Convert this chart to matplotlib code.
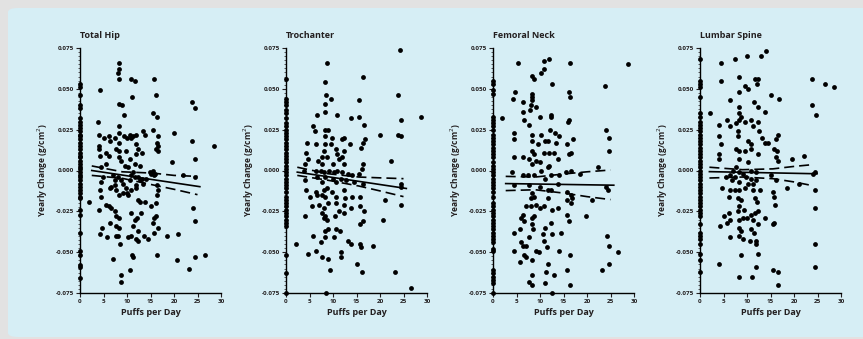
import numpy as np
import matplotlib
matplotlib.use("Agg")
import matplotlib.pyplot as plt
from matplotlib.patches import FancyBboxPatch
from matplotlib.ticker import MultipleLocator, FormatStrFormatter

plt.rcParams['font.family'] = ['Open Sans', 'DejaVu Sans']
plt.rcParams['axes.unicode_minus'] = False

titles = ["Total Hip", "Trochanter", "Femoral Neck", "Lumbar Spine"]

# --- Total Hip ---
hip_zero = [0.053, 0.051, 0.046, 0.040, 0.038, 0.032, 0.030, 0.028, 0.026, 0.024,
            0.022, 0.021, 0.019, 0.017, 0.015, 0.013, 0.011, 0.009, 0.008, 0.006,
            0.004, 0.002, 0.001, -0.001, -0.003, -0.004, -0.006, -0.008, -0.010,
            -0.012, -0.014, -0.016, -0.017, -0.024, -0.027, -0.038, -0.049,
            -0.052, -0.058, -0.059, -0.066]
hip_x = [8.3, 8.4, 8.1, 8.4, 10.8, 11.6, 15.7, 16.1, 11.1, 4.3, 8.3, 8.9, 9.4, 23.8,
         24.5, 15.6, 16.4, 3.9, 8.3, 19.9, 23.8, 28.6, 19.5, 24.5,
         4.1, 5.2, 6.1, 6.3, 7.4, 8.4, 9.4, 9.9, 10.7, 11.3, 12.0, 10.9, 11.9, 13.4,
         13.8, 15.6, 16.6, 16.3, 16.6, 16.1, 16.5, 4.1, 4.0, 5.6, 6.1, 7.7, 8.4, 9.7,
         8.3, 12.4, 13.1, 12.0, 4.3, 4.5, 5.6, 8.3, 8.8, 10.6, 11.6, 12.7, 15.6, 15.9,
         14.9, 9.6, 10.2, 10.9, 11.3, 11.6, 8.8, 9.1, 8.1, 7.4, 7.0, 12.4, 12.7, 13.4,
         13.1, 11.9, 10.6, 9.7, 14.1, 15.2, 15.7, 22.0, 24.5, 16.3, 16.6,
         2.0, 4.0, 4.5, 4.3, 4.5, 4.9, 6.6, 6.3, 7.4, 7.7, 8.4, 9.1, 9.9, 10.2, 10.9,
         12.0, 12.4, 12.7, 13.8, 15.0, 16.1, 16.3, 5.6, 6.1, 6.6, 7.4, 7.7, 8.3, 4.7,
         4.3, 5.7, 6.3, 7.7, 8.4, 7.6, 8.1, 8.6, 10.2, 10.9, 11.3, 11.6, 12.2, 12.9,
         12.4, 11.9, 12.4, 13.6, 14.4, 15.8, 15.6, 16.1, 16.5, 18.6, 20.9, 24.1, 24.5,
         10.8, 15.7, 16.3, 11.3, 11.1, 7.0, 10.6, 8.8, 8.8, 20.6, 23.1, 24.5, 26.5]
hip_y = [0.066, 0.062, 0.060, 0.056, 0.056, 0.055, 0.056, 0.046, 0.045, 0.049, 0.041,
         0.040, 0.034, 0.042, 0.038, 0.035, 0.033, 0.030, 0.027, 0.023, 0.018, 0.015,
         0.005, 0.007,
         0.022, 0.020, 0.021, 0.018, 0.020, 0.023, 0.021, 0.020, 0.022, 0.021, 0.022,
         0.020, 0.016, 0.024, 0.022, 0.025, 0.021, 0.017, 0.015, 0.013, 0.012, 0.015,
         0.013, 0.011, 0.009, 0.013, 0.012, 0.012, 0.017, 0.013, 0.011, 0.010, 0.009,
         0.002, 0.004, 0.008, 0.006, 0.007, 0.004, 0.003, 0.000, -0.002, -0.001, 0.003,
         0.002, -0.003, -0.001, -0.004, -0.006, -0.008, -0.004, -0.006, -0.003, -0.004,
         -0.006, -0.008, -0.005, -0.009, -0.006, -0.011, -0.005, -0.002, -0.003, -0.003,
         -0.004, -0.009, -0.012,
         -0.019, -0.024, -0.016, -0.012, -0.007, -0.004, -0.010, -0.011, -0.009, -0.012,
         -0.015, -0.014, -0.014, -0.015, -0.012, -0.011, -0.018, -0.019, -0.019, -0.022,
         -0.020, -0.015, -0.021, -0.022, -0.023, -0.025, -0.028, -0.029, -0.035, -0.039,
         -0.041, -0.032, -0.034, -0.035, -0.040, -0.040, -0.045, -0.041, -0.040, -0.034,
         -0.030, -0.029, -0.026, -0.037, -0.042, -0.043, -0.040, -0.042, -0.038, -0.032,
         -0.028, -0.035, -0.040, -0.039, -0.023, -0.031, -0.026, -0.029, -0.052, -0.053,
         -0.0515, -0.054, -0.061, -0.064, -0.068, -0.055, -0.060, -0.053, -0.052]
hip_band_x = [2.5, 9, 15.5, 20, 25]
hip_fit_x = [2.5, 25.5]
hip_fit_y = [0.000, -0.0099]
hip_upper = [0.0028, -0.0008, -0.0016, -0.0030, -0.0036]
hip_lower = [-0.0030, -0.0048, -0.0088, -0.0115, -0.0148]

# --- Trochanter ---
tro_zero = [0.056, 0.044, 0.042, 0.040, 0.037, 0.035, 0.032, 0.029, 0.027, 0.025,
            0.023, 0.021, 0.019, 0.017, 0.015, 0.013, 0.011, 0.009, 0.007, 0.005,
            0.003, 0.001, -0.001, -0.003, -0.005, -0.007, -0.009, -0.011, -0.013,
            -0.016, -0.018, -0.020, -0.022, -0.024, -0.026, -0.028, -0.030, -0.032,
            -0.034, -0.052, -0.063, -0.075]
tro_x = [24.3, 8.7, 8.4, 16.3, 8.6, 9.5, 8.4, 23.8, 15.6, 8.4, 6.7, 10.9, 13.8, 15.6,
         16.5, 28.8, 24.5, 23.8, 24.5, 19.9, 5.8, 6.1, 8.3, 9.0, 8.4, 9.7, 11.9, 12.4,
         16.9, 16.3, 4.5, 6.3, 8.3, 9.5, 13.6, 15.9, 4.3, 8.1, 10.6, 10.9, 12.4, 4.7,
         6.8, 7.7, 8.8, 11.3, 12.0, 4.1, 7.7, 9.9, 12.4, 16.3, 22.4, 16.1, 3.8, 6.3,
         7.4, 8.1, 9.1, 10.2, 10.9, 12.0, 13.1, 14.1, 15.6, 6.6, 8.4, 9.9, 11.6, 12.7,
         4.1, 7.7, 10.6, 14.5, 16.3, 24.5, 24.5, 4.3, 6.3, 8.1, 8.8, 12.4, 9.7, 5.2,
         6.6, 7.6, 8.4, 10.6, 12.6, 14.1, 15.7, 21.1, 24.5, 5.6, 7.0, 8.1, 9.0, 10.6,
         12.4, 11.3, 13.8, 15.7, 16.5, 4.1, 7.7, 8.4, 8.1, 8.8, 10.4, 12.4, 16.3, 15.7,
         20.6, 8.4, 9.0, 10.7, 11.4, 5.7, 8.4, 10.2, 7.5, 13.1, 13.8, 15.7, 15.9, 18.6,
         2.1, 6.3, 4.7, 7.6, 8.9, 11.6, 11.6, 15.1, 9.4, 16.1, 23.1, 26.5, 8.6]
tro_y = [0.074, 0.066, 0.054, 0.057, 0.046, 0.044, 0.041, 0.046, 0.043, 0.036, 0.034,
         0.034, 0.032, 0.033, 0.028, 0.033, 0.031, 0.022, 0.021, 0.022, 0.027, 0.024,
         0.025, 0.025, 0.021, 0.020, 0.019, 0.020, 0.019, 0.017, 0.017, 0.016, 0.016,
         0.016, 0.016, 0.014, 0.011, 0.012, 0.013, 0.010, 0.012, 0.007, 0.006, 0.008,
         0.008, 0.007, 0.008, 0.004, 0.004, 0.004, 0.004, 0.004, 0.006, 0.001, 0.000,
         0.000, 0.000, -0.001, 0.000, -0.001, 0.000, -0.001, -0.002, -0.003, -0.002,
         -0.004, -0.004, -0.005, -0.005, -0.006, -0.006, -0.007, -0.007, -0.007, -0.008,
         -0.008, -0.010, -0.012, -0.013, -0.012, -0.011, -0.012, -0.013, -0.016, -0.015,
         -0.015, -0.016, -0.016, -0.017, -0.016, -0.016, -0.018, -0.021, -0.022, -0.021,
         -0.023, -0.020, -0.020, -0.021, -0.025, -0.023, -0.022, -0.025, -0.028, -0.026,
         -0.028, -0.029, -0.030, -0.028, -0.026, -0.031, -0.033, -0.030, -0.037, -0.036,
         -0.036, -0.037, -0.040, -0.041, -0.041, -0.044, -0.043, -0.045, -0.045, -0.047,
         -0.046, -0.045, -0.049, -0.051, -0.053, -0.054, -0.050, -0.053, -0.057, -0.061,
         -0.062, -0.062, -0.072, -0.075]
tro_band_x = [2.4, 9, 15.5, 20, 25]
tro_fit_x = [2.4, 25.6]
tro_fit_y = [-0.001, -0.011]
tro_upper = [0.0020, -0.0020, -0.0040, -0.0045, -0.0050]
tro_lower = [-0.0030, -0.0060, -0.0095, -0.0125, -0.0160]

# --- Femoral Neck ---
fem_zero = [0.055, 0.053, 0.049, 0.047, 0.033, 0.031, 0.029, 0.027, 0.025, 0.022,
            0.020, 0.018, 0.016, 0.014, 0.012, 0.010, 0.008, 0.005, 0.003, 0.001,
            -0.001, -0.003, -0.005, -0.007, -0.009, -0.011, -0.013, -0.016, -0.020,
            -0.022, -0.024, -0.026, -0.028, -0.030, -0.032, -0.034, -0.036, -0.038,
            -0.040, -0.042, -0.044, -0.048, -0.049, -0.061, -0.063, -0.065, -0.067,
            -0.069, -0.075]
fem_x = [5.4, 10.9, 12.0, 16.3, 28.8, 8.4, 8.8, 10.2, 10.9, 12.6, 23.8, 4.7, 4.3, 8.4,
         8.4, 8.4, 8.1, 9.1, 16.1, 16.3, 6.4, 6.3, 7.9, 10.0, 12.4, 12.4, 6.6, 7.6, 2.0,
         16.1, 15.9, 4.5, 4.5, 8.4, 10.2, 12.2, 13.1, 14.0, 9.5, 8.4, 11.1, 11.6, 13.3,
         15.8, 17.0, 24.0, 24.6, 24.6, 4.5, 6.3, 8.4, 8.8, 10.9, 12.0, 12.9, 13.8, 16.1,
         16.5, 7.7, 9.1, 9.9, 8.3, 11.6, 12.0, 4.1, 6.3, 7.4, 8.8, 10.2, 11.1, 12.4,
         14.1, 15.6, 16.5, 18.6, 22.4, 24.5, 24.1, 4.5, 7.7, 9.9, 11.6, 12.4, 13.8, 8.4,
         8.8, 8.1, 11.6, 15.7, 16.5, 16.9, 15.7, 21.1, 7.0, 8.1, 9.1, 9.9, 10.8, 12.5,
         13.8, 16.5, 19.7, 6.3, 5.9, 6.6, 8.4, 8.8, 8.3, 8.6, 11.1, 12.4, 15.8, 16.1,
         5.8, 4.5, 7.6, 10.7, 12.5, 14.5, 10.8, 5.9, 6.4, 7.1, 9.1, 9.7, 11.4, 4.4,
         14.0, 24.3, 24.6, 26.6, 6.6, 7.0, 8.3, 5.7, 16.3, 24.6, 11.8, 23.1, 15.8, 11.3,
         12.9, 8.4, 7.6, 8.4, 11.1, 16.3, 12.5]
fem_y = [0.066, 0.067, 0.068, 0.066, 0.065, 0.058, 0.056, 0.060, 0.062, 0.053, 0.052,
         0.048, 0.044, 0.047, 0.045, 0.043, 0.040, 0.039, 0.048, 0.045, 0.042, 0.036,
         0.037, 0.033, 0.034, 0.033, 0.031, 0.028, 0.032, 0.031, 0.030, 0.023, 0.019,
         0.022, 0.022, 0.025, 0.023, 0.021, 0.016, 0.018, 0.018, 0.018, 0.017, 0.016,
         0.019, 0.025, 0.020, 0.012, 0.008, 0.008, 0.012, 0.010, 0.011, 0.011, 0.011,
         0.007, 0.010, 0.011, 0.007, 0.006, 0.005, 0.004, 0.002, 0.003, -0.001, -0.003,
         -0.003, -0.003, 0.000, -0.005, -0.003, -0.003, -0.001, 0.000, -0.002, 0.002,
         -0.012, -0.010, -0.009, -0.009, -0.010, -0.012, -0.012, -0.008, -0.014, -0.016,
         -0.017, -0.017, -0.013, -0.015, -0.017, -0.018, -0.018, -0.022, -0.022, -0.021,
         -0.023, -0.022, -0.024, -0.023, -0.020, -0.028, -0.027, -0.029, -0.031, -0.029,
         -0.028, -0.033, -0.036, -0.035, -0.032, -0.027, -0.031, -0.036, -0.038, -0.041,
         -0.039, -0.039, -0.038, -0.043, -0.044, -0.046, -0.046, -0.049, -0.050, -0.047,
         -0.049, -0.049, -0.040, -0.046, -0.050, -0.052, -0.053, -0.055, -0.056, -0.052,
         -0.057, -0.057, -0.061, -0.061, -0.062, -0.064, -0.064, -0.068, -0.070, -0.069,
         -0.070, -0.075]
fem_band_x = [2.7, 9, 15.5, 20, 25]
fem_fit_x = [2.7, 25.7]
fem_fit_y = [-0.0080, -0.0090]
fem_upper = [-0.0036, -0.0040, -0.0020, -0.0008, 0.0003]
fem_lower = [-0.0123, -0.0118, -0.0140, -0.0160, -0.0178]

# --- Lumbar Spine ---
lum_zero = [0.068, 0.055, 0.053, 0.051, 0.045, 0.035, 0.033, 0.030, 0.028, 0.026,
            0.024, 0.022, 0.020, 0.018, 0.016, 0.014, 0.012, 0.010, 0.008, 0.006,
            0.004, 0.002, 0.000, -0.002, -0.004, -0.006, -0.008, -0.010, -0.012,
            -0.014, -0.016, -0.018, -0.020, -0.022, -0.024, -0.026, -0.028, -0.033,
            -0.038, -0.040, -0.042, -0.045, -0.051, -0.055, -0.062]
lum_x = [4.5, 7.5, 9.9, 12.9, 14.0, 8.4, 4.5, 9.5, 10.2, 11.6, 12.4, 12.2, 23.8, 26.5,
         28.6, 8.3, 15.0, 16.9, 6.4, 11.4, 12.4, 8.4, 23.8, 24.6, 8.4, 8.8, 13.8, 2.1,
         5.7, 6.3, 7.7, 8.3, 9.5, 10.9, 11.3, 12.4, 12.6, 4.1, 4.1, 4.4, 8.1, 8.1, 10.2,
         10.8, 13.1, 13.8, 14.5, 16.5, 16.1, 7.6, 8.4, 9.5, 10.9, 12.4, 15.7, 16.3, 4.0,
         4.0, 16.1, 16.5, 19.6, 22.2, 10.2, 8.3, 7.0, 7.7, 8.4, 9.1, 10.9, 12.0, 6.3,
         5.6, 7.4, 9.7, 10.9, 11.9, 15.2, 16.1, 24.5, 24.1, 6.9, 8.4, 10.2, 11.3, 18.6,
         21.1, 4.7, 6.3, 7.4, 8.4, 9.5, 11.3, 12.7, 6.1, 8.1, 8.8, 11.6, 12.2, 15.7,
         15.6, 15.9, 24.5, 8.4, 8.1, 9.4, 11.6, 12.4, 6.1, 5.0, 6.3, 5.8, 8.4, 9.1, 9.9,
         10.9, 11.3, 4.3, 8.4, 8.8, 10.9, 11.4, 12.4, 13.9, 15.6, 15.7, 24.5, 6.3, 8.3,
         9.1, 10.6, 12.0, 11.9, 24.5, 12.4, 8.8, 4.0, 24.5, 11.9, 15.6, 16.5, 8.4, 11.1,
         16.5]
lum_y = [0.066, 0.068, 0.070, 0.070, 0.073, 0.057, 0.055, 0.052, 0.050, 0.056, 0.056,
         0.053, 0.056, 0.053, 0.051, 0.048, 0.046, 0.044, 0.043, 0.042, 0.039, 0.039,
         0.040, 0.034, 0.035, 0.033, 0.036, 0.035, 0.031, 0.027, 0.029, 0.031, 0.030,
         0.031, 0.027, 0.030, 0.024, 0.028, 0.021, 0.016, 0.024, 0.021, 0.018, 0.016,
         0.020, 0.017, 0.017, 0.022, 0.019, 0.013, 0.012, 0.012, 0.013, 0.010, 0.013,
         0.012, 0.010, 0.007, 0.008, 0.006, 0.007, 0.009, 0.005, 0.007, 0.000, 0.002,
         -0.001, -0.002, 0.000, -0.001, -0.003, -0.004, -0.004, -0.004, -0.005, -0.006,
         -0.003, -0.006, -0.001, -0.002, -0.006, -0.007, -0.008, -0.008, -0.011, -0.008,
         -0.011, -0.012, -0.012, -0.012, -0.011, -0.012, -0.012, -0.016, -0.017, -0.018,
         -0.017, -0.019, -0.016, -0.013, -0.021, -0.012, -0.022, -0.025, -0.024, -0.026,
         -0.025, -0.026, -0.028, -0.030, -0.032, -0.030, -0.029, -0.029, -0.027, -0.030,
         -0.034, -0.035, -0.037, -0.036, -0.038, -0.033, -0.029, -0.033, -0.032, -0.023,
         -0.041, -0.040, -0.042, -0.043, -0.043, -0.045, -0.045, -0.051, -0.052, -0.057,
         -0.059, -0.059, -0.061, -0.062, -0.065, -0.065, -0.070]
lum_band_x = [2.0, 9, 15.5, 20, 24]
lum_fit_x = [2.0, 24.9]
lum_fit_y = [-0.0007, -0.0020]
lum_upper = [0.0020, 0.0005, 0.0010, 0.0025, 0.0036]
lum_lower = [-0.0046, -0.0040, -0.0050, -0.0070, -0.0093]

panels = [
    (hip_zero, hip_x, hip_y, hip_fit_x, hip_fit_y, hip_band_x, hip_upper, hip_lower),
    (tro_zero, tro_x, tro_y, tro_fit_x, tro_fit_y, tro_band_x, tro_upper, tro_lower),
    (fem_zero, fem_x, fem_y, fem_fit_x, fem_fit_y, fem_band_x, fem_upper, fem_lower),
    (lum_zero, lum_x, lum_y, lum_fit_x, lum_fit_y, lum_band_x, lum_upper, lum_lower),
]

TXT = '#231f20'


def draw_panel(ax, title, data):
    zero, xs, ys, fx, fy, bx, up, lo = data
    ax.scatter(np.zeros(len(zero)), zero, s=12, color='black', linewidths=0,
               clip_on=False, zorder=3)
    ax.scatter(xs, ys, s=12, color='black', linewidths=0, clip_on=False, zorder=3)
    ax.plot(fx, fy, color='black', lw=1.2, zorder=4)
    ax.plot(bx, up, color='black', lw=1.2, dashes=(6, 3), zorder=4)
    ax.plot(bx, lo, color='black', lw=1.2, dashes=(6, 3), zorder=4)

    ax.set_xlim(0, 30)
    ax.set_ylim(-0.075, 0.075)
    ax.set_facecolor('none')
    for side in ('top', 'right'):
        ax.spines[side].set_visible(False)
    for side in ('left', 'bottom'):
        ax.spines[side].set_linewidth(1.0)
        ax.spines[side].set_color('black')

    ax.xaxis.set_major_locator(MultipleLocator(5))
    ax.yaxis.set_major_locator(MultipleLocator(0.025))
    ax.yaxis.set_minor_locator(MultipleLocator(0.0025))
    ax.yaxis.set_major_formatter(FormatStrFormatter('%.3f'))
    ax.tick_params(axis='both', which='major', length=3, width=0.8,
                   labelsize=4.5, colors=TXT, pad=1.5)
    ax.tick_params(axis='y', which='minor', length=1.5, width=0.5, colors=TXT)
    for lab in ax.get_xticklabels() + ax.get_yticklabels():
        lab.set_fontweight('bold')

    ax.set_xlabel('Puffs per Day', fontsize=6.5, fontweight='bold', color=TXT,
                  labelpad=3)
    ax.set_ylabel('Yearly Change (g/cm$^2$)', fontsize=6, fontweight='bold',
                  color=TXT, labelpad=4)
    ax.set_title(title, fontsize=6.5, fontweight='bold', color=TXT, loc='left',
                 pad=7)


def main():
    fig = plt.figure(figsize=(8.63, 3.39), dpi=100)
    fig.patch.set_facecolor('#e2e2e2')
    bg = FancyBboxPatch((8 / 863, 2 / 339), 870 / 863, 329 / 339,
                        boxstyle='round,pad=0,rounding_size=0.012',
                        transform=fig.transFigure, facecolor='#d6eef5',
                        edgecolor='none', zorder=-10)
    fig.patches.append(bg)

    lefts = [80, 286, 493, 700]
    for left, title, data in zip(lefts, titles, panels):
        ax = fig.add_axes([left / 863, 46 / 339, 141 / 863, 245 / 339])
        ax.set_zorder(5)
        draw_panel(ax, title, data)

    fig.savefig('out.png', dpi=100, facecolor=fig.get_facecolor())


if __name__ == '__main__':
    main()
